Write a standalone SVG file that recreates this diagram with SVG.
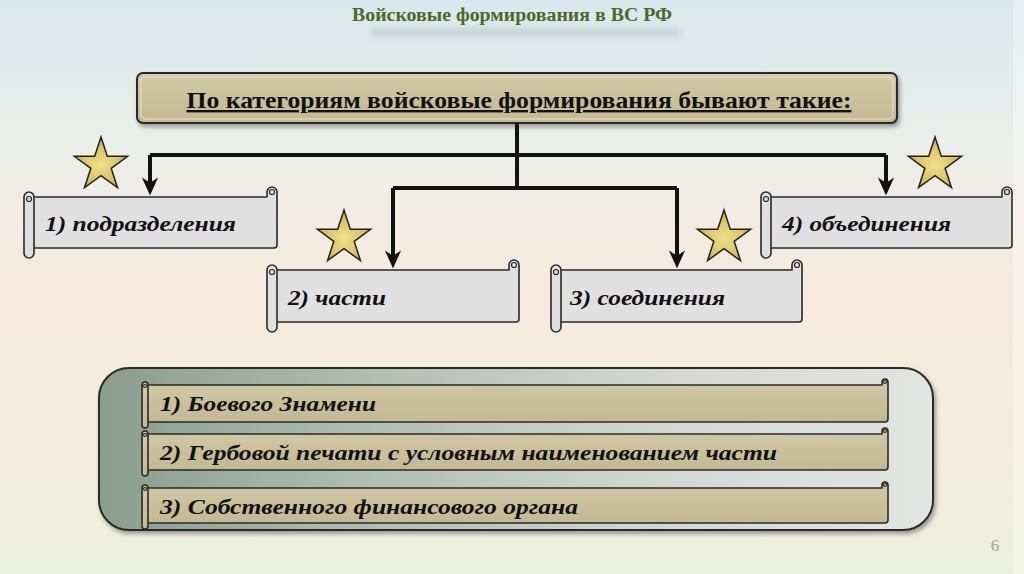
<svg xmlns="http://www.w3.org/2000/svg" width="1024" height="574" viewBox="0 0 1024 574">
<defs>
<linearGradient id="bg" x1="0" y1="0" x2="0" y2="1">
<stop offset="0" stop-color="#d9e7ec"/>
<stop offset="0.25" stop-color="#ebeeea"/>
<stop offset="0.5" stop-color="#f6eadd"/>
<stop offset="0.75" stop-color="#f3ecdc"/>
<stop offset="1" stop-color="#ebf0dc"/>
</linearGradient>
<linearGradient id="panel" x1="0" y1="0" x2="1" y2="0">
<stop offset="0" stop-color="#8a9e8d"/>
<stop offset="0.35" stop-color="#b3c0b6"/>
<stop offset="0.7" stop-color="#d3dad5"/>
<stop offset="1" stop-color="#e2e5e2"/>
</linearGradient>
<linearGradient id="khaki" x1="0" y1="0" x2="0" y2="1">
<stop offset="0" stop-color="#d2c9a6"/>
<stop offset="1" stop-color="#c3b993"/>
</linearGradient>
<radialGradient id="gold" cx="0.5" cy="0.55" r="0.55">
<stop offset="0" stop-color="#efe08f"/>
<stop offset="0.6" stop-color="#dcc565"/>
<stop offset="1" stop-color="#c8ad4a"/>
</radialGradient>
<filter id="blur" x="-20%" y="-200%" width="140%" height="500%">
<feGaussianBlur stdDeviation="3"/>
</filter>
<filter id="shadow" x="-5%" y="-20%" width="110%" height="150%">
<feDropShadow dx="2" dy="3" stdDeviation="2" flood-color="#000" flood-opacity="0.35"/>
</filter>
<path id="star" d="M0,-28 L6.29,-8.66 L26.63,-8.65 L10.18,3.31 L16.46,22.65 L0,10.7 L-16.46,22.65 L-10.18,3.31 L-26.63,-8.65 L-6.29,-8.66 Z"/>
<marker id="arr" viewBox="0 0 20 20" refX="14" refY="10" markerWidth="18" markerHeight="18" markerUnits="userSpaceOnUse" orient="auto">
<path d="M0,1 L20,10 L0,19 L6,10 Z" fill="#111"/>
</marker>
</defs>
<style>
.scroll{fill:#e0e0e0;stroke:#2a2a2a;stroke-width:1.6;stroke-linejoin:round}
.bscroll{fill:url(#khaki);stroke:#2a2a2a;stroke-width:1.6;stroke-linejoin:round}
.curl{fill:none;stroke:#2a2a2a;stroke-width:1.2}
.lbl{font-family:"Liberation Serif",serif;font-weight:bold;font-style:italic;font-size:22px;fill:#111}
.blbl{font-family:"Liberation Serif",serif;font-weight:bold;font-style:italic;font-size:21px;fill:#111}
.starshape{fill:url(#gold);stroke:#222;stroke-width:1.5;stroke-linejoin:miter}
.conn{fill:none;stroke:#111;stroke-width:4}
</style>
<rect x="0" y="0" width="1024" height="574" fill="url(#bg)"/>
<rect x="1013" y="0" width="11" height="574" fill="#ffffff" opacity="0.35"/>

<g id="title">
<rect x="370" y="29" width="310" height="7" fill="#7a8a8a" opacity="0.25" filter="url(#blur)"/>
<text x="512" y="21" text-anchor="middle" font-family="'Liberation Serif',serif" font-weight="bold" font-size="19" fill="#4a6a2c" textLength="320" lengthAdjust="spacingAndGlyphs">Войсковые формирования в ВС РФ</text>
</g>

<g id="header">
<rect x="137" y="73" width="760" height="50" rx="6" fill="url(#khaki)" stroke="#2a2a2a" stroke-width="2" filter="url(#shadow)"/>
<rect x="141" y="77" width="752" height="42" rx="4" fill="none" stroke="#e8e2c8" stroke-width="1.5" opacity="0.7"/>
<text x="519" y="108" text-anchor="middle" font-family="'Liberation Serif',serif" font-weight="bold" font-size="24" fill="#111" text-decoration="underline" textLength="665" lengthAdjust="spacingAndGlyphs">По категориям войсковые формирования бывают такие:</text>
</g>

<g id="connectors">
<path class="conn" d="M517,123 V188"/>
<path class="conn" d="M150,155 H886"/>
<path class="conn" d="M150,155 V190" marker-end="url(#arr)"/>
<path class="conn" d="M886,155 V190" marker-end="url(#arr)"/>
<path class="conn" d="M393,188 H677"/>
<path class="conn" d="M393,188 V263" marker-end="url(#arr)"/>
<path class="conn" d="M677,188 V263" marker-end="url(#arr)"/>
</g>

<g id="stars">
<use href="#star" class="starshape" transform="translate(101,165)"/>
<use href="#star" class="starshape" transform="translate(344,238)"/>
<use href="#star" class="starshape" transform="translate(724,238)"/>
<use href="#star" class="starshape" transform="translate(935,165)"/>
</g>

<g id="node1">
<path class="scroll" d="M29,197 L267,197 L267,192 A5,5 0 0 1 277,192 L277,245 Q277,248 274,248 L29,248 Z"/>
<path class="scroll" d="M34,197 L34,253 A5,5 0 0 1 24,253 L24,197 A5,5 0 0 1 34,197 Z"/>
<circle class="curl" cx="29" cy="199" r="2.5"/>
<circle class="curl" cx="272" cy="192" r="2.5"/>
<text class="lbl" x="45" y="231" textLength="191" lengthAdjust="spacingAndGlyphs">1) подразделения</text>
</g>

<g id="node2">
<path class="scroll" d="M272,270 L509,270 L509,265 A5,5 0 0 1 519,265 L519,319 Q519,322 516,322 L272,322 Z"/>
<path class="scroll" d="M277,270 L277,327 A5,5 0 0 1 267,327 L267,270 A5,5 0 0 1 277,270 Z"/>
<circle class="curl" cx="272" cy="272" r="2.5"/>
<circle class="curl" cx="514" cy="265" r="2.5"/>
<text class="lbl" x="288" y="305" textLength="98" lengthAdjust="spacingAndGlyphs">2) части</text>
</g>

<g id="node3">
<path class="scroll" d="M556,270 L792,270 L792,265 A5,5 0 0 1 802,265 L802,319 Q802,322 799,322 L556,322 Z"/>
<path class="scroll" d="M561,270 L561,327 A5,5 0 0 1 551,327 L551,270 A5,5 0 0 1 561,270 Z"/>
<circle class="curl" cx="556" cy="272" r="2.5"/>
<circle class="curl" cx="797" cy="265" r="2.5"/>
<text class="lbl" x="570" y="305" textLength="155" lengthAdjust="spacingAndGlyphs">3) соединения</text>
</g>

<g id="node4">
<path class="scroll" d="M766,197 L1002,197 L1002,192 A5,5 0 0 1 1012,192 L1012,245 Q1012,248 1009,248 L766,248 Z"/>
<path class="scroll" d="M771,197 L771,253 A5,5 0 0 1 761,253 L761,197 A5,5 0 0 1 771,197 Z"/>
<circle class="curl" cx="766" cy="199" r="2.5"/>
<circle class="curl" cx="1007" cy="192" r="2.5"/>
<text class="lbl" x="782" y="231" textLength="169" lengthAdjust="spacingAndGlyphs">4) объединения</text>
</g>

<g id="panel">
<rect x="99" y="368" width="834" height="162" rx="30" fill="url(#panel)" stroke="#2a2a2a" stroke-width="2" filter="url(#shadow)"/>
</g>

<g id="item1">
<path class="bscroll" d="M145,385 L882,385 L882,382 A3,3 0 0 1 888,382 L888,419 Q888,422 885,422 L145,422 Z"/>
<path class="bscroll" d="M148,385 L148,425 A3,3 0 0 1 142,425 L142,385 A3,3 0 0 1 148,385 Z"/>
<circle class="curl" cx="145" cy="386" r="1.5"/>
<circle class="curl" cx="885" cy="382" r="1.5"/>
<text class="blbl" x="160" y="411" textLength="216" lengthAdjust="spacingAndGlyphs">1) Боевого Знамени</text>
</g>

<g id="item2">
<path class="bscroll" d="M145,434 L882,434 L882,431 A3,3 0 0 1 888,431 L888,467 Q888,470 885,470 L145,470 Z"/>
<path class="bscroll" d="M148,434 L148,473 A3,3 0 0 1 142,473 L142,434 A3,3 0 0 1 148,434 Z"/>
<circle class="curl" cx="145" cy="435" r="1.5"/>
<circle class="curl" cx="885" cy="431" r="1.5"/>
<text class="blbl" x="160" y="460" textLength="617" lengthAdjust="spacingAndGlyphs">2) Гербовой печати с условным наименованием части</text>
</g>

<g id="item3">
<path class="bscroll" d="M145,488 L882,488 L882,485 A3,3 0 0 1 888,485 L888,520 Q888,523 885,523 L145,523 Z"/>
<path class="bscroll" d="M148,488 L148,526 A3,3 0 0 1 142,526 L142,488 A3,3 0 0 1 148,488 Z"/>
<circle class="curl" cx="145" cy="489" r="1.5"/>
<circle class="curl" cx="885" cy="485" r="1.5"/>
<text class="blbl" x="160" y="514" textLength="418" lengthAdjust="spacingAndGlyphs">3) Собственного финансового органа</text>
</g>

<text x="995" y="551" text-anchor="middle" font-family="'Liberation Serif',serif" font-size="17" fill="#a0a0a0">6</text>
</svg>
